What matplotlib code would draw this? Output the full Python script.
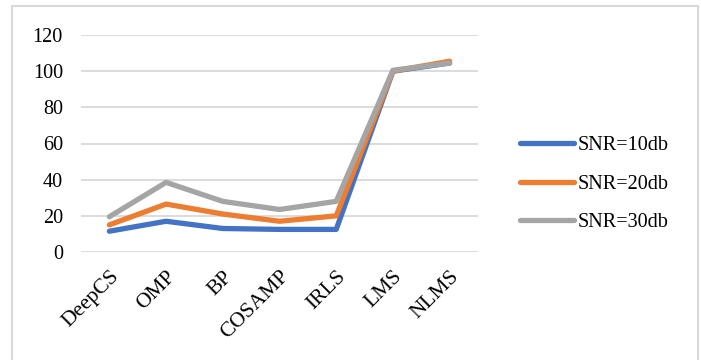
import matplotlib.pyplot as plt
from matplotlib.patches import Rectangle

methods = ["DeepCS", "OMP", "BP", "COSAMP", "IRLS", "LMS", "NLMS"]
snr_10 = [11.5, 17.0, 13.0, 12.5, 12.5, 100.0, 104.5]
snr_20 = [15.0, 26.5, 21.0, 17.0, 20.0, 100.0, 105.5]
snr_30 = [19.5, 38.5, 28.0, 23.5, 28.0, 100.5, 104.5]
series_labels = ["SNR=10db", "SNR=20db", "SNR=30db"]
colors = ["#4472c4", "#ed7d31", "#a5a5a5"]
y_ticks = [0, 20, 40, 60, 80, 100, 120]

plt.rcParams["font.family"] = ["Liberation Serif", "DejaVu Serif"]

W, H = 701, 360
fig = plt.figure(figsize=(W / 100, H / 100), dpi=100)

# outer chart frame
fig.patches.append(Rectangle((12 / W, -0.05), 686 / W, (H - 6) / H + 0.05,
                             transform=fig.transFigure, fill=False,
                             edgecolor="#d9d9d9", linewidth=1.5))

ax = fig.add_axes([81 / W, 1 - 252 / H, 397 / W, (252 - 35) / H])
x = list(range(len(methods)))
for vals, lab, c in zip([snr_10, snr_20, snr_30], series_labels, colors):
    ax.plot(x, vals, color=c, linewidth=3.8, label=lab,
            solid_capstyle="round", solid_joinstyle="round")

ax.set_xlim(-0.5, len(methods) - 0.5)
ax.set_ylim(0, 120)
ax.set_yticks(y_ticks)
ax.set_yticklabels([str(v) for v in y_ticks], fontsize=14.5)
ax.set_xticks(x)
ax.set_xticklabels(methods, fontsize=15.5, rotation=45, ha="right",
                   rotation_mode="anchor")
ax.tick_params(axis="y", length=0, pad=13)
ax.tick_params(axis="x", length=0, pad=11)
ax.grid(axis="y", color="#d9d9d9", linewidth=1.3)
ax.set_axisbelow(True)
for s in ax.spines.values():
    s.set_visible(False)

leg = fig.legend(loc="center left", bbox_to_anchor=(502 / W, 1 - 184 / H),
                 frameon=False, fontsize=14.5, handlelength=2.7,
                 handletextpad=0.15, labelspacing=0.95)
for h in leg.get_lines():
    h.set_linewidth(3.8)

fig.savefig("out.png", dpi=100)
